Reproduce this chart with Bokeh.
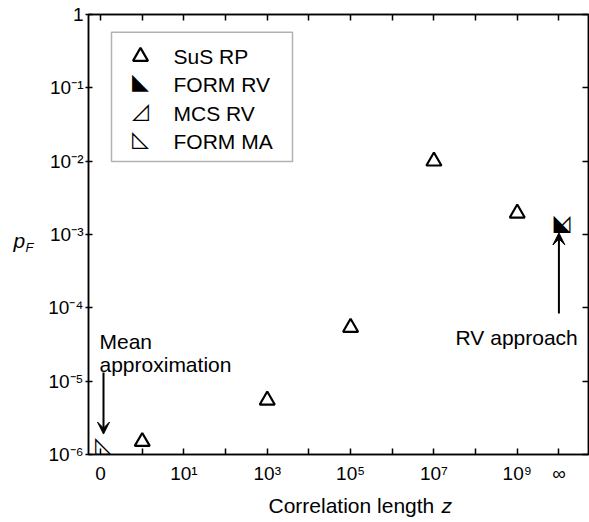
import numpy as np
from bokeh.plotting import figure
from bokeh.models import (LinearAxis, LogAxis, FixedTicker, Range1d, Label,
                          Arrow, VeeHead, BoxAnnotation, ColumnDataSource)
from bokeh.core.properties import value
from bokeh.embed import file_html
from bokeh.resources import INLINE

# ---------------- data ----------------
# correlation length z -> plotted at log10(z); z = 0 and z = inf get special slots
ZERO_POS = -1
INF_POS = 10
sus_z = [1e0, 1e3, 1e5, 1e7, 1e9]
sus_pf = [1.5e-6, 5.5e-6, 5.4e-5, 1.0e-2, 1.95e-3]
form_rv_pf = [1.32e-3]   # z = infinity
mcs_rv_pf = [1.32e-3]    # z = infinity
form_ma_pf = [1.25e-6]   # z = 0

x_ticks = [-1, 0, 1, 2, 3, 4, 5, 6, 7, 8, 9, 10]
x_tick_labels = ["0", "", "10¹", "", "10³", "", "10⁵", "", "10⁷", "", "10⁹", "∞"]
y_ticks = [1e-6, 1e-5, 1e-4, 1e-3, 1e-2, 1e-1, 1.0]
y_tick_labels = ["10⁻⁶", "10⁻⁵", "10⁻⁴", "10⁻³", "10⁻²", "10⁻¹", "1"]

legend_labels = ["SuS RP", "FORM RV", "MCS RV", "FORM MA"]
legend_symbols = ["", "◣", "◿", "◺"]

FONT = "Liberation Sans"
SYM_FONT = "DejaVu Sans"

# ---------------- figure ----------------
p = figure(width=589, height=522, y_axis_type="log",
           x_range=Range1d(-1.29, 10.71), y_range=Range1d(1e-6, 1.0),
           output_backend="svg", toolbar_location=None,
           min_border_left=88, min_border_right=1, min_border_top=14,
           min_border_bottom=68, background_fill_color="white",
           border_fill_color="white", outline_line_color="black",
           outline_line_width=1.5)
p.xgrid.visible = False
p.ygrid.visible = False

# bottom axis
xa = p.xaxis[0]
xa.ticker = FixedTicker(ticks=x_ticks, minor_ticks=[])
xa.major_label_overrides = {t: l for t, l in zip(x_ticks, x_tick_labels)}
xa.major_tick_in = 6
xa.major_tick_out = 0
xa.major_label_standoff = 8
xa.major_label_text_font = FONT
xa.major_label_text_font_size = "19px"
xa.major_label_text_color = "black"
xa.axis_line_width = 1.5
xa.major_tick_line_width = 1.5

# left axis
ya = p.yaxis[0]
ya.ticker = FixedTicker(ticks=y_ticks, minor_ticks=[])
ya.major_label_overrides = {t: l for t, l in zip(y_ticks, y_tick_labels)}
ya.major_tick_in = 4
ya.major_tick_out = 3
ya.major_label_standoff = 2
ya.major_label_text_font = FONT
ya.major_label_text_font_size = "19px"
ya.major_label_text_color = "black"
ya.axis_line_width = 1.5
ya.major_tick_line_width = 1.5

# top / right frame axes (ticks only)
top = LinearAxis(ticker=FixedTicker(ticks=x_ticks, minor_ticks=[]),
                 major_label_overrides={t: "" for t in x_ticks},
                 major_tick_in=6, major_tick_out=0, major_label_text_font_size="1px",
                 major_label_standoff=0, axis_line_width=1.5, major_tick_line_width=1.5)
p.add_layout(top, "above")
right = LogAxis(ticker=FixedTicker(ticks=y_ticks, minor_ticks=[]),
                major_label_overrides={t: "" for t in y_ticks},
                major_tick_in=6, major_tick_out=0, major_label_text_font_size="1px",
                major_label_standoff=0, axis_line_width=1.5, major_tick_line_width=1.5)
p.add_layout(right, "right")

# ---------------- data marks ----------------
p.scatter(x=np.log10(sus_z), y=sus_pf, marker="triangle", size=15,
          fill_color="white", line_color="black", line_width=2.2)

sym_src = ColumnDataSource(dict(
    x=[INF_POS, INF_POS, ZERO_POS],
    y=[form_rv_pf[0], mcs_rv_pf[0], form_ma_pf[0]],
    t=legend_symbols[1:]))
p.text(x="x", y="y", text="t", source=sym_src, text_font=value(SYM_FONT),
       text_font_size="22px", text_align="center", text_baseline="middle",
       text_color="black", x_offset=3, y_offset=-3)

# ---------------- legend ----------------
p.add_layout(BoxAnnotation(left=-0.738, right=3.606, top=0.571, bottom=0.0099,
                           fill_color="white", fill_alpha=1.0,
                           line_color="black", line_width=1.5, level="underlay"))
leg_y = [0.267, 0.111, 0.0447, 0.01854]
p.scatter(x=[-0.042], y=[leg_y[0]], marker="triangle", size=15,
          fill_color="white", line_color="black", line_width=2.2)
p.text(x=[-0.042] * 3, y=leg_y[1:], text=legend_symbols[1:],
       text_font=value(SYM_FONT), text_font_size="22px",
       text_align="center", text_baseline="middle", text_color="black",
       y_offset=-3)
p.text(x=[0.75] * 4, y=leg_y, text=legend_labels, text_font=value(FONT),
       text_font_size="21px", text_align="left", text_baseline="middle",
       text_color="black")

# ---------------- annotations ----------------
for txt, yy in [("Mean", 3.47e-5), ("approximation", 1.69e-5)]:
    p.add_layout(Label(x=-1.026, y=yy, text=txt, text_font=FONT,
                       text_font_size="21px", text_baseline="alphabetic",
                       text_color="black"))
p.add_layout(Arrow(end=VeeHead(size=12, fill_color="black", line_color="black"),
                   x_start=-0.93, y_start=1.31e-5, x_end=-0.93, y_end=1.9e-6,
                   line_width=2, line_color="black"))

p.add_layout(Label(x=7.52, y=3.94e-5, text="RV approach", text_font=FONT,
                   text_font_size="21px", text_baseline="alphabetic",
                   text_color="black"))
p.add_layout(Arrow(end=VeeHead(size=12, fill_color="black", line_color="black"),
                   x_start=INF_POS, y_start=8.37e-5, x_end=INF_POS, y_end=1.05e-3,
                   line_width=2, line_color="black"))

# axis titles (canvas units, placed in the side panels)
p.add_layout(Label(x=268, y=505, x_units="canvas", y_units="canvas",
                   text="Correlation length", text_font=FONT,
                   text_font_size="21px", text_baseline="alphabetic",
                   text_color="black"), "below")
p.add_layout(Label(x=441, y=505, x_units="canvas", y_units="canvas",
                   text="z", text_font=FONT,
                   text_font_style="italic", text_font_size="21px",
                   text_baseline="alphabetic", text_color="black"), "left")
p.add_layout(Label(x=13, y=240, x_units="canvas", y_units="canvas",
                   text="p", text_font=FONT,
                   text_font_style="italic", text_font_size="21px",
                   text_baseline="alphabetic", text_color="black"), "left")
p.add_layout(Label(x=25, y=247, x_units="canvas", y_units="canvas",
                   text="F", text_font=FONT,
                   text_font_style="italic", text_font_size="13px",
                   text_baseline="alphabetic", text_color="black"), "left")

open("out.html", "w").write(file_html(p, INLINE))
